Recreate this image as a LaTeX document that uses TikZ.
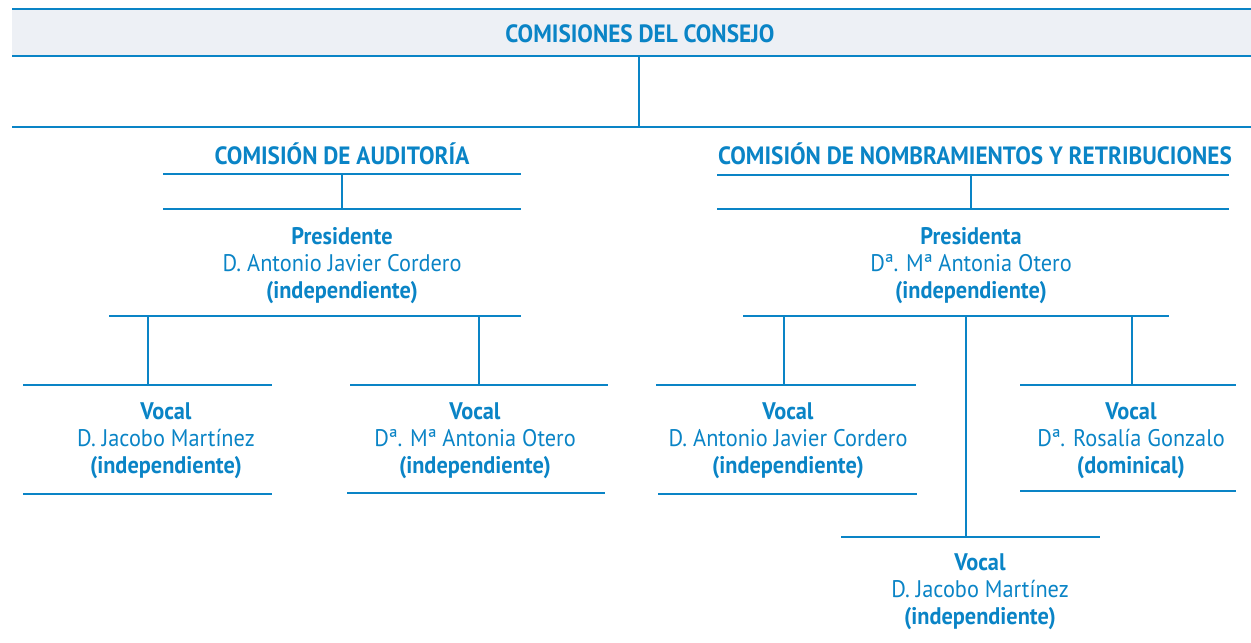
\documentclass[tikz,border=0pt]{standalone}
\usepackage{fontspec}
\setmainfont{PT Sans}[FakeStretch=0.93]
\usepackage{xcolor}
\usepackage{tikz}
\definecolor{azul}{HTML}{0A84C6}
\definecolor{gris}{HTML}{EDF0F5}

\begin{document}
\begin{tikzpicture}[x=0.5pt,y=-0.5pt,
  raya/.style={azul,line width=1pt},
  cargo/.style={text=azul,align=center,inner sep=0pt,font=\fontsize{12}{13.5}\selectfont},
  titulo/.style={text=azul,inner sep=0pt,font=\bfseries\fontsize{12.5}{13}\selectfont}]
\useasboundingbox (0,0) rectangle (1251,642);
% consejo
\fill[gris] (12,9) rectangle (1251,56);
\draw[raya] (12,9)--(1251,9);
\draw[raya] (12,56)--(1251,56);
\node[titulo] (consejo) at (640,34) {COMISIONES DEL CONSEJO};
\coordinate (c0) at (639,56);
\coordinate (c1) at (639,127);
\draw[raya] (c0)--(c1);
\draw[raya] (12,127)--(1251,127);
% auditoria
\node[titulo] (audit) at (342,154) {COMISIÓN DE AUDITORÍA};
\draw[raya] (163,174)--(521,174);
\coordinate (a0) at (342,174);
\coordinate (a1) at (342,209);
\draw[raya] (a0)--(a1);
\draw[raya] (163,209)--(521,209);
\node[cargo] (apres) at (342,266) {\textbf{Presidente}\\D. Antonio Javier Cordero\\\textbf{(independiente)}};
\draw[raya] (109,316)--(521,316);
\coordinate (a2) at (148,316);
\coordinate (a3) at (148,385);
\coordinate (a4) at (479,316);
\coordinate (a5) at (479,385);
\draw[raya] (a2)--(a3);
\draw[raya] (a4)--(a5);
\draw[raya] (23,385)--(272,385);
\node[cargo] (avoc1) at (166,441) {\textbf{Vocal}\\D. Jacobo Martínez\\\textbf{(independiente)}};
\draw[raya] (23,494)--(272,494);
\draw[raya] (350,385)--(608,385);
\node[cargo] (avoc2) at (475,441) {\textbf{Vocal}\\Dª. Mª Antonia Otero\\\textbf{(independiente)}};
\draw[raya] (347,493)--(605,493);
% nombramientos
\node[titulo] (nomb) at (975,154) {COMISIÓN DE NOMBRAMIENTOS Y RETRIBUCIONES};
\draw[raya] (717,175)--(1229,175);
\coordinate (n0) at (971,175);
\coordinate (n1) at (971,209);
\draw[raya] (n0)--(n1);
\draw[raya] (717,209)--(1229,209);
\node[cargo] (npres) at (971,266) {\textbf{Presidenta}\\Dª. Mª Antonia Otero\\\textbf{(independiente)}};
\draw[raya] (743,316)--(1169,316);
\coordinate (n2) at (784,316);
\coordinate (n3) at (784,385);
\coordinate (n4) at (966,316);
\coordinate (n5) at (966,537);
\coordinate (n6) at (1132,316);
\coordinate (n7) at (1132,385);
\draw[raya] (n2)--(n3);
\draw[raya] (n4)--(n5);
\draw[raya] (n6)--(n7);
\draw[raya] (656,385)--(916,385);
\node[cargo] (nvoc1) at (788,441) {\textbf{Vocal}\\D. Antonio Javier Cordero\\\textbf{(independiente)}};
\draw[raya] (658,494)--(917,494);
\draw[raya] (1020,385)--(1236,385);
\node[cargo] (nvoc2) at (1131,441) {\textbf{Vocal}\\Dª. Rosalía Gonzalo\\\textbf{(dominical)}};
\draw[raya] (1020,491)--(1236,491);
\draw[raya] (841,537)--(1100,537);
\node[cargo] (nvoc3) at (980,592) {\textbf{Vocal}\\D. Jacobo Martínez\\\textbf{(independiente)}};
\end{tikzpicture}
\end{document}
